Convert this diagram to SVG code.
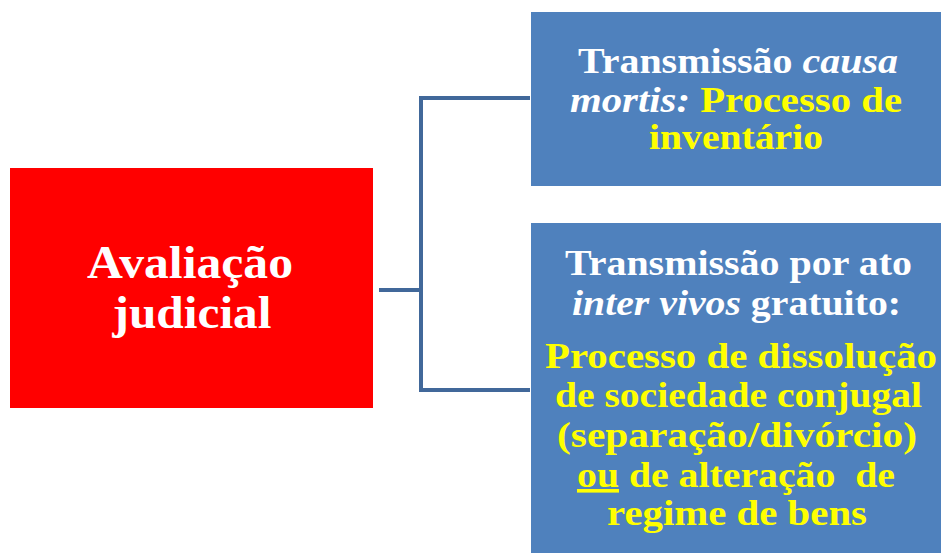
<svg xmlns="http://www.w3.org/2000/svg" width="941" height="553" viewBox="0 0 941 553">
<style>
.t{font-family:"Liberation Serif","DejaVu Serif",serif;font-weight:bold;text-anchor:middle}
.b{font-size:36px}
.w{fill:#ffffff}
.y{fill:#ffff00}
.i{font-style:italic}
.box{fill:#4f81bd}
.conn{fill:none;stroke:#41689a;stroke-width:4}
</style>
<rect width="941" height="553" fill="#ffffff"/>
<g id="connectors">
<path class="conn" d="M379,290 H421 M421,98 V390 M419,98 H530 M419,390 H530"/>
</g>
<g id="avaliacao">
<rect x="10" y="168" width="363" height="240" fill="#ff0000"/>
<text class="t w" font-size="46" x="190" y="278" textLength="206" lengthAdjust="spacingAndGlyphs">Avaliação</text>
<text class="t w" font-size="46" x="192" y="328" textLength="159" lengthAdjust="spacingAndGlyphs">judicial</text>
</g>
<g id="causa-mortis">
<rect class="box" x="531" y="12" width="410" height="174"/>
<text class="t b w" x="738" y="73" textLength="320" lengthAdjust="spacingAndGlyphs">Transmissão <tspan class="i">causa</tspan></text>
<text class="t b" x="736" y="112" textLength="332" lengthAdjust="spacingAndGlyphs"><tspan class="w i">mortis:</tspan><tspan class="y"> Processo de</tspan></text>
<text class="t b y" x="736" y="149" textLength="174" lengthAdjust="spacingAndGlyphs">inventário</text>
</g>
<g id="inter-vivos">
<rect class="box" x="531" y="223" width="410" height="330"/>
<text class="t b w" x="738.5" y="275" textLength="347" lengthAdjust="spacingAndGlyphs">Transmissão por ato</text>
<text class="t b w" x="736.5" y="315" textLength="329" lengthAdjust="spacingAndGlyphs"><tspan class="i">inter vivos</tspan> gratuito:</text>
<text class="t b y" x="741" y="368" textLength="392" lengthAdjust="spacingAndGlyphs">Processo de dissolução</text>
<text class="t b y" x="738.5" y="407" textLength="367" lengthAdjust="spacingAndGlyphs">de sociedade conjugal</text>
<text class="t b y" x="737" y="447" textLength="360" lengthAdjust="spacingAndGlyphs">(separação/divórcio)</text>
<text class="t b y" x="736" y="487" textLength="318" lengthAdjust="spacingAndGlyphs" xml:space="preserve"><tspan text-decoration="underline">ou</tspan> de alteração  de</text>
<text class="t b y" x="737" y="525" textLength="260" lengthAdjust="spacingAndGlyphs">regime de bens</text>
</g>
</svg>
